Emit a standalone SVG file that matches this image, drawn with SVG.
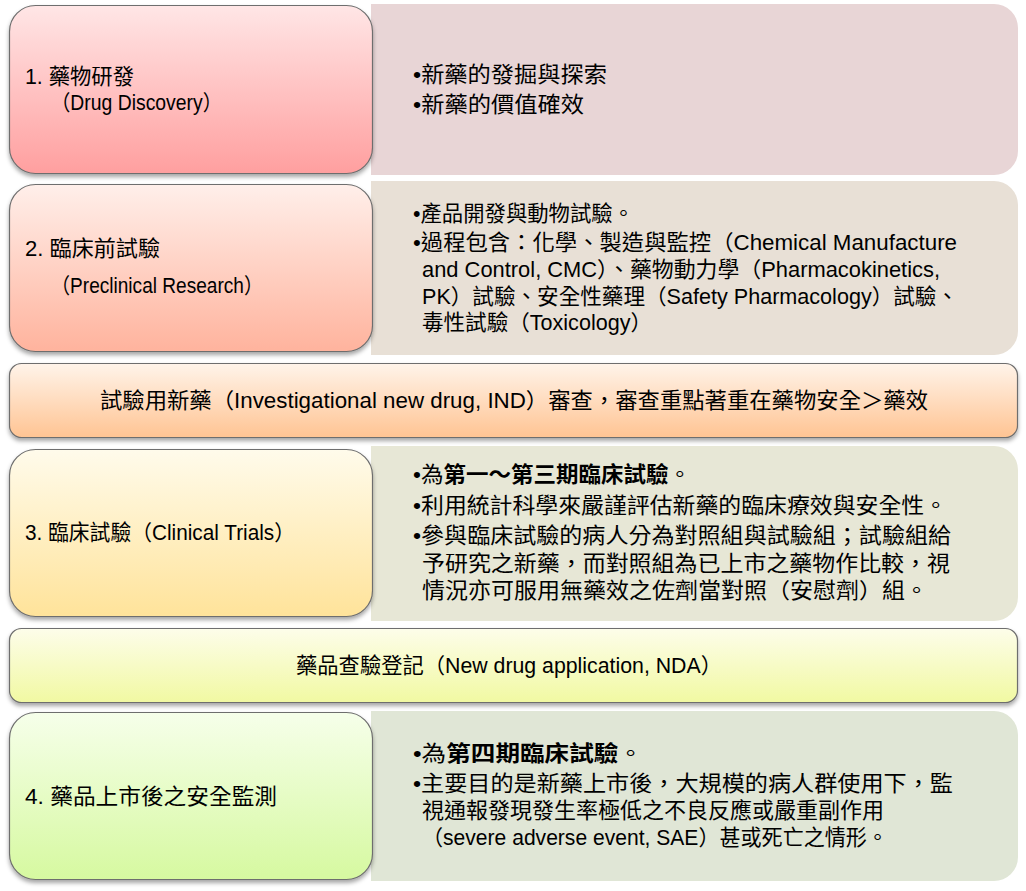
<svg xmlns="http://www.w3.org/2000/svg" width="1026" height="891" viewBox="0 0 1026 891">
<style>
  text { font-family: "Liberation Sans", "Noto Sans CJK TC", sans-serif; font-size: 21.5px; fill: #000; }
  .b { font-weight: bold; }
  .box { stroke: #6e6e6e; stroke-width: 1.2; filter: url(#sh); }
  .panel { stroke: none; }
</style>
<defs>
  <filter id="sh" x="-5%" y="-10%" width="110%" height="130%">
    <feDropShadow dx="0" dy="3" stdDeviation="2.2" flood-color="#000" flood-opacity="0.35"/>
  </filter>
  <linearGradient id="g1" x1="0" y1="0" x2="0" y2="1"><stop offset="0" stop-color="#ffe6e6"/><stop offset="1" stop-color="#ff9f9f"/></linearGradient>
  <linearGradient id="g2" x1="0" y1="0" x2="0" y2="1"><stop offset="0" stop-color="#ffefea"/><stop offset="1" stop-color="#ffb39d"/></linearGradient>
  <linearGradient id="g3" x1="0" y1="0" x2="0" y2="1"><stop offset="0" stop-color="#fff4ea"/><stop offset="1" stop-color="#ffc493"/></linearGradient>
  <linearGradient id="g4" x1="0" y1="0" x2="0" y2="1"><stop offset="0" stop-color="#fffbeb"/><stop offset="1" stop-color="#ffe39a"/></linearGradient>
  <linearGradient id="g5" x1="0" y1="0" x2="0" y2="1"><stop offset="0" stop-color="#fdfdea"/><stop offset="1" stop-color="#f1f9a2"/></linearGradient>
  <linearGradient id="g6" x1="0" y1="0" x2="0" y2="1"><stop offset="0" stop-color="#f6ffea"/><stop offset="1" stop-color="#d6f9a0"/></linearGradient>
</defs>
<rect width="1026" height="891" fill="#ffffff"/>

<g id="panel1">
  <path class="panel" fill="#e8d5d6" d="M371 4 H994 A24 24 0 0 1 1018 28 V151 A24 24 0 0 1 994 175 H371 Z"/>
  <text x="413" y="82" textLength="194" lengthAdjust="spacingAndGlyphs">•新藥的發掘與探索</text>
  <text x="413" y="112" textLength="171" lengthAdjust="spacingAndGlyphs">•新藥的價值確效</text>
</g>
<g id="node1">
  <rect class="box" x="9.5" y="5.5" width="363" height="168" rx="26" fill="url(#g1)"/>
  <text x="25" y="84" textLength="109" lengthAdjust="spacingAndGlyphs">1. 藥物研發</text>
  <text x="51" y="110" textLength="171" lengthAdjust="spacingAndGlyphs">（Drug Discovery）</text>
</g>

<g id="panel2">
  <path class="panel" fill="#e8e0d6" d="M371 181 H994 A24 24 0 0 1 1018 205 V331 A24 24 0 0 1 994 355 H371 Z"/>
  <text x="413" y="221" textLength="221" lengthAdjust="spacingAndGlyphs">•產品開發與動物試驗。</text>
  <text x="413" y="250" textLength="544" lengthAdjust="spacingAndGlyphs">•過程包含：化學、製造與監控（Chemical Manufacture</text>
  <text x="422" y="277" textLength="518" lengthAdjust="spacingAndGlyphs">and Control, CMC）、藥物動力學（Pharmacokinetics,</text>
  <text x="422" y="304" textLength="536" lengthAdjust="spacingAndGlyphs">PK）試驗、安全性藥理（Safety Pharmacology）試驗、</text>
  <text x="422" y="330" textLength="230" lengthAdjust="spacingAndGlyphs">毒性試驗（Toxicology）</text>
</g>
<g id="node2">
  <rect class="box" x="9.5" y="184.5" width="363" height="167" rx="26" fill="url(#g2)"/>
  <text x="25" y="256" textLength="135" lengthAdjust="spacingAndGlyphs">2. 臨床前試驗</text>
  <text x="51" y="293" textLength="212" lengthAdjust="spacingAndGlyphs">（Preclinical Research）</text>
</g>

<g id="ind">
  <rect class="box" x="9.5" y="363.5" width="1008" height="74" rx="12" fill="url(#g3)"/>
  <text x="514" y="408" text-anchor="middle" textLength="828" lengthAdjust="spacingAndGlyphs">試驗用新藥（Investigational new drug, IND）審查，審查重點著重在藥物安全＞藥效</text>
</g>

<g id="panel3">
  <path class="panel" fill="#e7e7d6" d="M371 446 H994 A24 24 0 0 1 1018 470 V597 A24 24 0 0 1 994 621 H371 Z"/>
  <text x="413" y="482" textLength="278" lengthAdjust="spacingAndGlyphs">•為<tspan class="b">第一～第三期臨床試驗</tspan>。</text>
  <text x="413" y="513" textLength="534" lengthAdjust="spacingAndGlyphs">•利用統計科學來嚴謹評估新藥的臨床療效與安全性。</text>
  <text x="413" y="543" textLength="538" lengthAdjust="spacingAndGlyphs">•參與臨床試驗的病人分為對照組與試驗組；試驗組給</text>
  <text x="422" y="571" textLength="528" lengthAdjust="spacingAndGlyphs">予研究之新藥，而對照組為已上市之藥物作比較，視</text>
  <text x="422" y="598" textLength="506" lengthAdjust="spacingAndGlyphs">情況亦可服用無藥效之佐劑當對照（安慰劑）組。</text>
</g>
<g id="node3">
  <rect class="box" x="9.5" y="449.5" width="363" height="167" rx="26" fill="url(#g4)"/>
  <text x="25" y="540" textLength="270" lengthAdjust="spacingAndGlyphs">3. 臨床試驗（Clinical Trials）</text>
</g>

<g id="nda">
  <rect class="box" x="9.5" y="628.5" width="1008" height="74" rx="12" fill="url(#g5)"/>
  <text x="509" y="673" text-anchor="middle" textLength="426" lengthAdjust="spacingAndGlyphs">藥品查驗登記（New drug application, NDA）</text>
</g>

<g id="panel4">
  <path class="panel" fill="#e0e6d6" d="M371 711 H994 A24 24 0 0 1 1018 735 V857 A24 24 0 0 1 994 881 H371 Z"/>
  <text x="413" y="761" textLength="230" lengthAdjust="spacingAndGlyphs">•為<tspan class="b">第四期臨床試驗</tspan>。</text>
  <text x="413" y="791" textLength="540" lengthAdjust="spacingAndGlyphs">•主要目的是新藥上市後，大規模的病人群使用下，監</text>
  <text x="422" y="818" textLength="462" lengthAdjust="spacingAndGlyphs">視通報發現發生率極低之不良反應或嚴重副作用</text>
  <text x="422" y="845" textLength="466" lengthAdjust="spacingAndGlyphs">（severe adverse event, SAE）甚或死亡之情形。</text>
</g>
<g id="node4">
  <rect class="box" x="9.5" y="712.5" width="363" height="167" rx="26" fill="url(#g6)"/>
  <text x="25" y="804" textLength="252" lengthAdjust="spacingAndGlyphs">4. 藥品上市後之安全監測</text>
</g>

<g id="connectors"></g>
</svg>
